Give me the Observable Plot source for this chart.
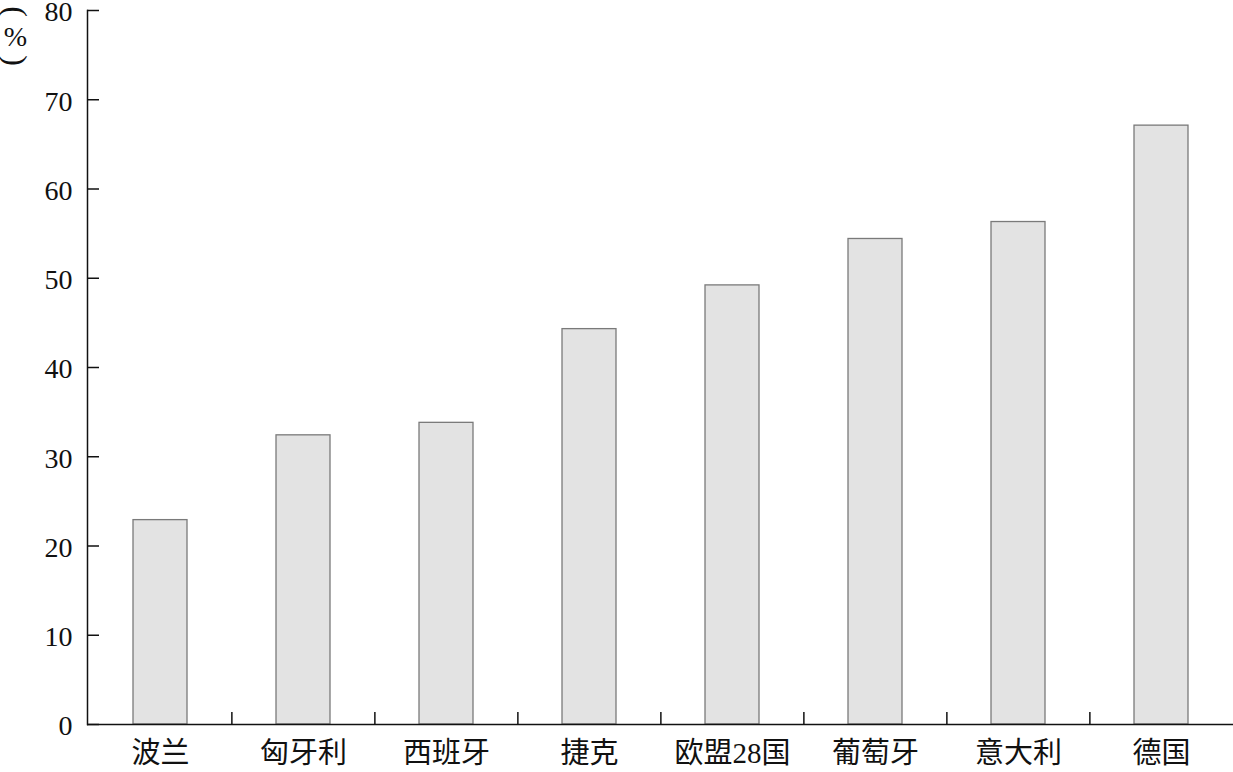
<!DOCTYPE html>
<html>
<head>
<meta charset="utf-8">
<script src="https://cdn.jsdelivr.net/npm/d3@7"></script>
<script src="https://cdn.jsdelivr.net/npm/@observablehq/plot@0.6"></script>
<style>
  html, body { margin: 0; padding: 0; background: #fff; }
  svg { overflow: visible; }
</style>
</head>
<body>
<div id="chart"></div>
<script>
const categories = ["波兰", "匈牙利", "西班牙", "捷克", "欧盟28国", "葡萄牙", "意大利", "德国"];
const values = [22.9, 32.4, 33.8, 44.3, 49.2, 54.4, 56.3, 67.1];
const yTicks = [0, 10, 20, 30, 40, 50, 60, 70, 80];
const yLabelParts = ["(", "%", ")"];

const data = categories.map((c, i) => ({cat: c, value: values[i]}));

const W = 1233, H = 772, ML = 87, MR = 0, MT = 10, MB = 48;
const step = (W - ML - MR) / categories.length;
const pxPerUnit = (H - MT - MB) / 80;
const font = "'Liberation Serif', 'Times New Roman', 'Noto Sans CJK SC', serif";
const labelStyle = {frameAnchor: "top-left", dx: -72, fontFamily: "'Liberation Serif', serif", fill: "#111", lineAnchor: "middle", textAnchor: "middle"};

const chart = Plot.plot({
  width: W,
  height: H,
  marginLeft: ML,
  marginRight: MR,
  marginTop: MT,
  marginBottom: MB,
  style: {fontFamily: font, fontSize: "28px", background: "#fff", color: "#111"},
  x: {domain: categories, paddingInner: 0.623, paddingOuter: 0.3115},
  y: {domain: [0, 80]},
  marks: [
    Plot.barY(data, {x: "cat", y: "value", fill: "#e3e3e3", stroke: "#7a7a7a", strokeWidth: 1.3}),
    Plot.axisY({ticks: yTicks, tickSize: 0, tickPadding: 15, label: null, fontSize: 28, dy: 2}),
    Plot.axisX({tickSize: 0, tickPadding: 18, label: null, fontSize: 29}),
    Plot.ruleY(yTicks, {y: d => d, insetRight: W - ML - MR - 12, stroke: "#111", strokeWidth: 1.5}),
    Plot.ruleX(categories.slice(1), {x: d => d, dx: -step / 2, y1: 0, y2: 12 / pxPerUnit, stroke: "#111", strokeWidth: 1.5}),
    Plot.ruleY([0], {stroke: "#111", strokeWidth: 1.5}),
    Plot.frame({anchor: "left", stroke: "#111", strokeWidth: 1.5}),
    Plot.text([yLabelParts[0]], {...labelStyle, text: d => d, dy: 1, rotate: 90, fontSize: 32}),
    Plot.text([yLabelParts[1]], {...labelStyle, text: d => d, dy: 27, fontSize: 28}),
    Plot.text([yLabelParts[2]], {...labelStyle, text: d => d, dy: 50, rotate: 90, fontSize: 32})
  ]
});
document.getElementById("chart").appendChild(chart);
</script>
</body>
</html>
